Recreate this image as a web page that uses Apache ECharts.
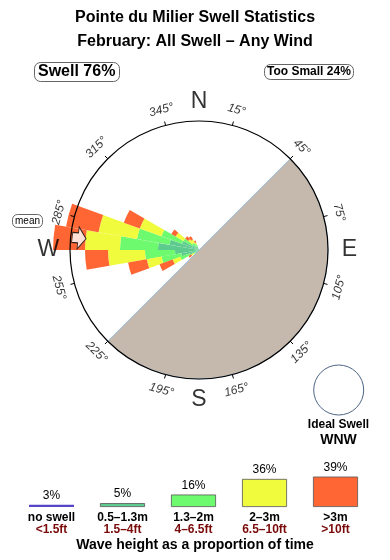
<!DOCTYPE html>
<html><head><meta charset="utf-8">
<script src="https://cdn.jsdelivr.net/npm/echarts@6/dist/echarts.min.js"></script>
<style>html,body{margin:0;padding:0;background:#fff}#c{width:390px;height:560px}</style>
</head><body><div id="c"></div>
<script>
const FONT = '"Liberation Sans", Arial, Helvetica, sans-serif';

// ---- data ----
const dirBins = [230, 240, 250, 260, 270, 280, 290, 300, 310, 320, 330]; // 10° bins (start bearing)
const h05_13 = [0.3, 1.0, 1.8, 2.4, 4.1, 3.0, 1.8, 0.8, 0.5, 0.4, 0.3];
const h13_2  = [0.3, 1.0, 2.0, 3.0, 3.8, 3.3, 2.2, 1.0, 0.4, 0.4, 0.3];
const h2_3   = [0.3, 0.8, 1.5, 3.7, 3.5, 3.9, 2.3, 0.9, 0.5, 0.4, 0.2];
const h3p    = [0.3, 1.4, 1.9, 2.3, 3.2, 3.3, 1.7, 0.5, 0.4, 0.4, 0.2];
const tickLabels = ['15°','45°','75°','105°','135°','165°','195°','225°','255°','285°','315°','345°'];
const compassLabels = ['N','E','S','W'];
const compassAngles = [0, 90, 180, 270];
const compassRadii = [14.83, 15.03, 15.0, 15.07];
const meanDir = 275.7;
const meanRadius = 12.05;
const shadowStart = 45, shadowSpan = 180;
const classNames = ['no swell','0.5–1.3m','1.3–2m','2–3m','>3m'];
const classFeet  = ['<1.5ft','1.5–4ft','4–6.5ft','6.5–10ft','>10ft'];
const classPct   = [3, 5, 16, 36, 39];
const classColors = ['#5546c8','#5ecb8e','#6efa6e','#f0fb3e','#ff6633'];
const swellPct = 76, tooSmallPct = 24, idealDir = 'WNW';

// ---- build ----
const allBins = Array.from({length: 36}, (_, i) => i * 10);
function expand(arr) { return allBins.map(b => { const k = dirBins.indexOf(b); return k < 0 ? 0 : arr[k]; }); }
function rotFor(a) { let t = a > 180 ? a - 360 : a; if (t > 90) t -= 180; if (t < -90) t += 180; return -t; }
const C = [199, 250];

const roseSeries = [h05_13, h13_2, h2_3, h3p].map((arr, i) => ({
  type: 'bar', coordinateSystem: 'polar', polarIndex: 1, stack: 'rose',
  barCategoryGap: '0%', data: expand(arr), silent: true, z: 3,
  itemStyle: { color: classColors[i + 1] }
}));

const chart = echarts.init(document.getElementById('c'), null, { renderer: 'canvas' });
chart.setOption({
  animation: false,
  backgroundColor: '#fff',
  textStyle: { fontFamily: FONT },
  title: [
    { text: 'Pointe du Milier Swell Statistics', left: 'center', top: 10, padding: 0,
      textStyle: { fontSize: 16, fontWeight: 'bold', color: '#000', fontFamily: FONT } },
    { text: 'February: All Swell – Any Wind', left: 'center', top: 33.5, padding: 0,
      textStyle: { fontSize: 16, fontWeight: 'bold', color: '#000', fontFamily: FONT } },
    { text: 'Swell ' + swellPct + '%', left: 34, top: 62, padding: [2, 4], borderColor: '#666', borderWidth: 1, borderRadius: 6,
      textStyle: { fontSize: 16, fontWeight: 'bold', color: '#000', fontFamily: FONT } },
    { text: 'Too Small ' + tooSmallPct + '%', left: 264, top: 64, padding: [2, 3], borderColor: '#666', borderWidth: 1, borderRadius: 6,
      textStyle: { fontSize: 12, fontWeight: 'bold', color: '#000', fontFamily: FONT } },
    { text: 'mean', left: 12, top: 214, padding: [2, 3], borderColor: '#666', borderWidth: 1, borderRadius: 5,
      textStyle: { fontSize: 10, fontWeight: 'normal', color: '#000', fontFamily: FONT } }
  ],
  polar: [
    { center: C, radius: 129 },
    { center: C, radius: 160 },
    { center: C, radius: 160 }
  ],
  angleAxis: [
    { polarIndex: 0, type: 'category', data: tickLabels, startAngle: 90, clockwise: true, boundaryGap: true, z: 10,
      axisLine: { show: true, lineStyle: { color: '#000', width: 1.2 } },
      axisTick: { show: true, alignWithLabel: true, length: 4, lineStyle: { color: '#000' } },
      axisLabel: { show: false }, splitLine: { show: false }, splitArea: { show: false } },
    { polarIndex: 1, type: 'category', data: allBins.map(String), startAngle: 90, clockwise: true, show: false },
    { polarIndex: 2, type: 'value', min: 0, max: 360, startAngle: 90, clockwise: true, show: false }
  ],
  radiusAxis: [
    { polarIndex: 0, min: 0, max: 12.9, show: false },
    { polarIndex: 1, min: 0, max: 16, show: false },
    { polarIndex: 2, min: 0, max: 16, show: false }
  ],
  grid: { left: 16, right: 19, top: 468, bottom: 53 },
  xAxis: { type: 'category', data: classNames, axisLine: { show: false }, axisTick: { show: false },
    axisLabel: { interval: 0, margin: 5,
      formatter: (v, i) => '{a|' + v + '}\n{b|' + classFeet[i] + '}',
      rich: { a: { color: '#000', fontSize: 12, fontWeight: 'bold', lineHeight: 12, fontFamily: FONT },
              b: { color: '#7a0a0a', fontSize: 12, fontWeight: 'bold', lineHeight: 12, fontFamily: FONT } } } },
  yAxis: { type: 'value', min: 0, max: 50, show: false },
  graphic: [
    { type: 'circle', shape: { cx: 338.7, cy: 390, r: 25 }, style: { fill: 'none', stroke: '#4c6585', lineWidth: 1 }, silent: true },
    { type: 'text', x: 338.5, y: 425, style: { text: 'Ideal Swell', align: 'center', verticalAlign: 'middle', fontSize: 12, fontWeight: 'bold', fontFamily: FONT, fill: '#000' } },
    { type: 'text', x: 338.5, y: 440.5, style: { text: idealDir, align: 'center', verticalAlign: 'middle', fontSize: 14, fontWeight: 'bold', fontFamily: FONT, fill: '#000' } },
    { type: 'text', x: 195, y: 545, style: { text: 'Wave height as a proportion of time', align: 'center', verticalAlign: 'middle', fontSize: 14, fontWeight: 'bold', fontFamily: FONT, fill: '#000' } }
  ],
  series: [
    { type: 'pie', center: C, radius: [0, 129], startAngle: shadowStart, clockwise: true, silent: true, z: 1,
      label: { show: false }, labelLine: { show: false }, emphasis: { disabled: true },
      itemStyle: { borderColor: '#9fc1e2', borderWidth: 1 },
      data: [ { value: shadowSpan, itemStyle: { color: '#c5b9ad' } },
              { value: 360 - shadowSpan, itemStyle: { color: 'rgba(0,0,0,0)', borderColor: 'rgba(0,0,0,0)' } } ] },
    ...roseSeries,
    { type: 'scatter', coordinateSystem: 'polar', polarIndex: 2, clip: false, silent: true, z: 12,
      symbolSize: 1, itemStyle: { color: 'rgba(0,0,0,0)' },
      label: { show: true, position: 'inside', formatter: '{b}', color: '#000', fontSize: 12, fontStyle: 'italic', fontFamily: FONT },
      data: tickLabels.map(t => { const a = parseFloat(t); return { name: t, value: [14.5, a], label: { rotate: rotFor(a) } }; }) },
    { type: 'scatter', coordinateSystem: 'polar', polarIndex: 2, clip: false, silent: true, z: 12,
      symbolSize: 1, itemStyle: { color: 'rgba(0,0,0,0)' },
      label: { show: true, position: 'inside', formatter: '{b}', color: '#000', fontSize: 23, fontFamily: FONT },
      data: compassLabels.map((n, i) => ({ name: n, value: [compassRadii[i], compassAngles[i]] })) },
    { type: 'scatter', coordinateSystem: 'polar', polarIndex: 2, clip: false, silent: true, z: 11,
      symbol: 'path://M0,6 L6,6 L6,0 L14,11 L6,22 L6,16 L0,16 Z', symbolSize: [14, 22],
      symbolRotate: -(meanDir - 270),
      itemStyle: { color: '#fff', borderColor: '#000', borderWidth: 1 },
      data: [[meanRadius, meanDir]] },
    { type: 'bar', xAxisIndex: 0, yAxisIndex: 0, barWidth: 45, silent: true,
      label: { show: true, position: 'top', distance: 3, formatter: '{c}%', color: '#000', fontSize: 12, fontFamily: FONT },
      data: classPct.map((v, i) => ({ value: v, itemStyle: { color: classColors[i], borderColor: i ? '#555' : classColors[i], borderWidth: i ? 0.8 : 0 } })) }
  ]
});
</script></body></html>
